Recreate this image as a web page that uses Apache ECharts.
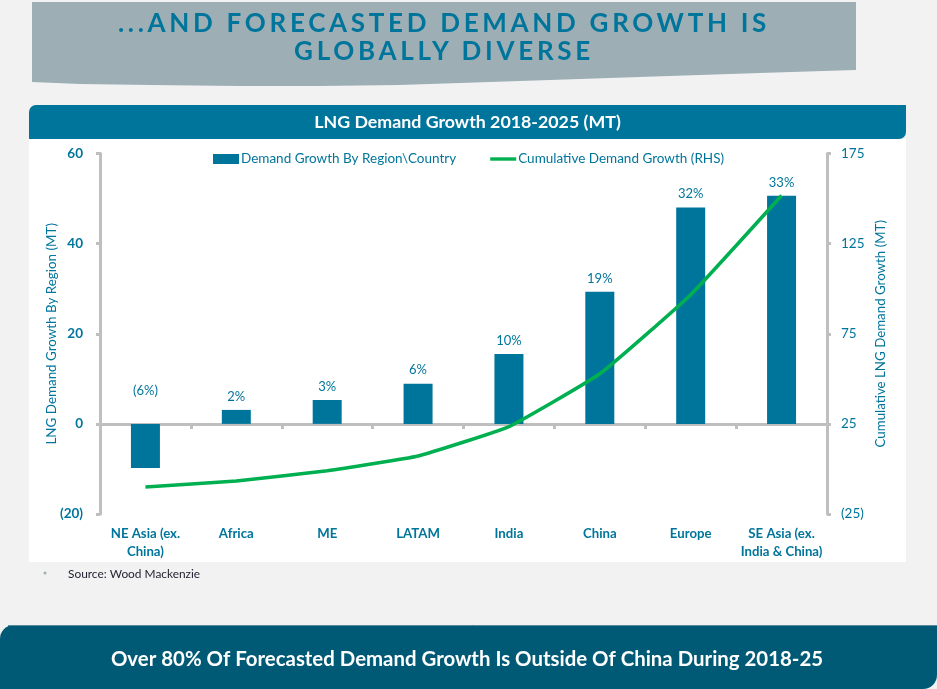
<!DOCTYPE html>
<html><head><meta charset="utf-8">
<style>
html,body{margin:0;padding:0;background:#f2f2f2;width:937px;height:689px;overflow:hidden}
#c{position:absolute;left:0;top:0;width:937px;height:689px}
#h{position:absolute;left:32px;top:7.5px;width:824px;text-align:center;color:#00759c;font:bold 26px/28px Lato,sans-serif;letter-spacing:3.7px}
</style>
<script src="https://cdn.jsdelivr.net/npm/echarts@6/dist/echarts.min.js"></script>
</head><body>
<div id="c"></div>
<div id="h">...AND FORECASTED DEMAND GROWTH IS<br>GLOBALLY DIVERSE</div>
<script>
const categories = ['NE Asia (ex.\nChina)','Africa','ME','LATAM','India','China','Europe','SE Asia (ex.\nIndia & China)'];
const regionGrowth = [-9.8,3.1,5.3,8.9,15.5,29.3,48,50.6];
const cumulativeGrowth = [-10,-6.7,-1,7.2,23.5,52.8,96.7,151.7];
const shareLabels = ['(6%)','2%','3%','6%','10%','19%','32%','33%'];
const leftTicks = {min:-20,max:60,interval:20};
const rightTicks = {min:-25,max:175,interval:50};
const fmt = v => v < 0 ? '(' + Math.abs(v) + ')' : String(v);

const TEAL = '#00759c', GREY = '#bfbfbf', FONT = 'Lato, sans-serif';
const chart = echarts.init(document.getElementById('c'), null, {renderer:'canvas'});
chart.setOption({
  animation:false,
  backgroundColor:'#f2f2f2',
  textStyle:{fontFamily:FONT},
  graphic:{elements:[
    {type:'polygon',z:-10,shape:{points:[[32,2],[856,2],[856,70],[760,73],[640,77],[520,81],[400,85],[320,86],[240,86],[150,85],[80,84],[32,82]]},style:{fill:'#9dafb5'}},
    {type:'rect',z:-10,shape:{x:29,y:139,width:877,height:423},style:{fill:'#ffffff'}},
    {type:'rect',z:-9,shape:{x:29,y:105,width:877,height:34,r:[7,0,7,0]},style:{fill:TEAL}},
    {type:'text',z:-8,style:{x:467.5,y:122,text:'LNG Demand Growth 2018-2025 (MT)',fill:'#fff',font:'bold 17.8px Lato, sans-serif',align:'center',verticalAlign:'middle'}},
    {type:'circle',z:-8,shape:{cx:45,cy:573,r:1.5},style:{fill:'#9dafb5'}},
    {type:'text',z:-8,style:{x:68,y:574,text:'Source: Wood Mackenzie',fill:'#1f1f2e',font:'11.9px Lato, sans-serif',align:'left',verticalAlign:'middle'}},
    {type:'rect',z:-9,shape:{x:0,y:625,width:937,height:64,r:[14,0,14,0]},style:{fill:'#005a76'}},
    {type:'line',z:-8,shape:{x1:8,y1:625.5,x2:937,y2:625.5},style:{stroke:'#5a8a9a',lineWidth:1}},
    {type:'text',z:-8,style:{x:467,y:659,text:'Over 80% Of Forecasted Demand Growth Is Outside Of China During 2018-25',fill:'#fff',font:'bold 20.4px Lato, sans-serif',align:'center',verticalAlign:'middle'}}
  ]},
  legend:{left:208,top:147,itemGap:34,itemWidth:26,itemHeight:10,
    textStyle:{color:TEAL,fontSize:13.5,fontFamily:FONT,padding:[0,0,0,-3]},
    data:[{name:'Demand Growth By Region\\Country',icon:'rect'},
          {name:'Cumulative Demand Growth (RHS)',icon:'path://M0 0h26v3.4h-26z'}]},
  grid:{left:100,right:110,top:153.5,bottom:175},
  xAxis:{type:'category',data:categories,
    axisLine:{lineStyle:{color:GREY,width:3}},
    axisTick:{show:true,length:5,lineStyle:{color:GREY,width:3}},
    axisLabel:{color:TEAL,fontWeight:'bold',fontSize:13.2,lineHeight:18,margin:11,interval:0,fontFamily:FONT}},
  yAxis:[
    {type:'value',...leftTicks,splitLine:{show:false},
     name:'LNG Demand Growth By Region (MT)',nameLocation:'middle',nameGap:42,nameRotate:90,nameMoveOverlap:false,
     nameTextStyle:{color:TEAL,fontSize:13.4,fontFamily:FONT},
     axisLine:{show:true,onZero:false,lineStyle:{color:GREY,width:3}},
     axisTick:{show:true,length:4,lineStyle:{color:GREY,width:3}},
     axisLabel:{color:TEAL,fontWeight:'bold',fontSize:13.5,margin:17,formatter:fmt,fontFamily:FONT}},
    {type:'value',position:'right',...rightTicks,splitLine:{show:false},
     name:'Cumulative LNG Demand Growth (MT)',nameLocation:'middle',nameGap:47,nameRotate:90,nameMoveOverlap:false,
     nameTextStyle:{color:TEAL,fontSize:13.3,fontFamily:FONT},
     axisLine:{show:true,onZero:false,lineStyle:{color:GREY,width:3}},
     axisTick:{show:true,length:4,lineStyle:{color:GREY,width:3}},
     axisLabel:{color:TEAL,fontSize:13.5,margin:14,formatter:fmt,fontFamily:FONT}}
  ],
  series:[
    {name:'Demand Growth By Region\\Country',type:'bar',barWidth:29,z:2,itemStyle:{color:TEAL},
     data:regionGrowth.map((v,i)=>({value:v,label:v<0?{position:'top',offset:[0,-20]}:undefined})),
     label:{show:true,position:'top',distance:7,color:TEAL,fontSize:13,fontFamily:FONT,
       formatter:p=>shareLabels[p.dataIndex]}},
    {name:'Cumulative Demand Growth (RHS)',type:'line',yAxisIndex:1,z:3,smooth:0.12,showSymbol:false,symbol:'none',
     lineStyle:{color:'#00b050',width:3.5},itemStyle:{color:'#00b050'},data:cumulativeGrowth}
  ]
});
</script>
</body></html>
